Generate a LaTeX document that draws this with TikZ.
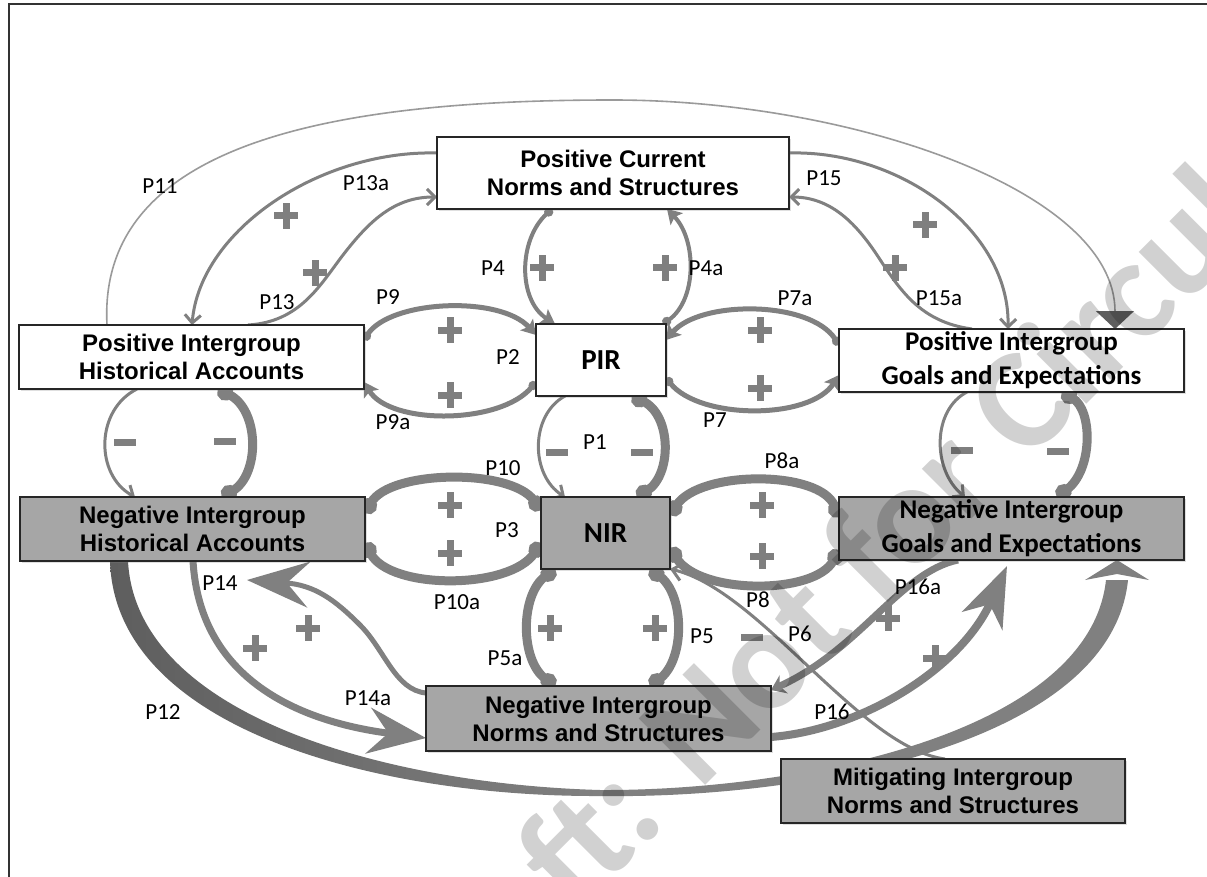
\documentclass[tikz,border=0pt]{standalone}
\usepackage{fontspec}
\setmainfont{Liberation Sans}
\newfontfamily\calfnt{Carlito}
\usetikzlibrary{arrows.meta,shadows,backgrounds}
\definecolor{boxgray}{HTML}{A6A6A6}
\definecolor{conc}{HTML}{808080}
\definecolor{signc}{HTML}{7F7F7F}
\definecolor{darkc}{HTML}{5E5E5E}
\definecolor{thinc}{HTML}{9A9A9A}
\begin{document}
\begin{tikzpicture}[x=1pt,y=-1pt,
  box/.style={draw=black!85, line width=1.3pt, inner sep=0pt, outer sep=0pt, align=center,
    font=\bfseries\fontsize{24}{28}\selectfont,
    drop shadow={opacity=0.25, shadow xshift=2pt, shadow yshift=-2pt}},
  wbox/.style={box, fill=white},
  gbox/.style={box, fill=boxgray},
  calbox/.style={font=\calfnt\bfseries\fontsize{27}{34}\selectfont},
  lbl/.style={font=\calfnt\fontsize{23}{23}\selectfont, inner sep=0pt},
  thickarc/.style={draw=conc, line width=9pt, arrows={Circle[length=16pt]-Circle[length=16pt]}},
  medarc/.style={draw=conc, line width=5pt, arrows={Circle[length=9pt]-Stealth[length=14pt,width=17pt,inset=3pt]}},
  thinarc/.style={draw=conc, line width=3pt, arrows={-Straight Barb[length=8pt,width=16pt]}},
  plussign/.pic={\fill[signc] (-12,-3.5) rectangle (12,3.5); \fill[signc] (-3.5,-13) rectangle (3.5,13);},
  minussign/.pic={\fill[signc] (-11,-3.5) rectangle (11,3.5);}
]
\useasboundingbox (0,0) rectangle (1207,877);
\clip (0,0) rectangle (1207,877);

% boxes
\node[wbox, minimum width=352pt, minimum height=72pt] (pcns) at (613,173) {Positive Current\\Norms and Structures};
\node[wbox, minimum width=345pt, minimum height=64pt] (piha) at (191.5,357) {Positive Intergroup\\Historical Accounts};
\node[wbox, calbox, font=\calfnt\bfseries\fontsize{29}{34}\selectfont, minimum width=130pt, minimum height=72pt] (pir) at (601,360) {PIR};
\node[wbox, calbox, minimum width=345pt, minimum height=63pt] (pige) at (1011.5,360.5) {Positive Intergroup\\Goals and Expectations};
\node[gbox, minimum width=345pt, minimum height=64pt] (niha) at (192.5,529) {Negative Intergroup\\Historical Accounts};
\node[gbox, calbox, font=\calfnt\bfseries\fontsize{29}{34}\selectfont, minimum width=129pt, minimum height=72pt] (nir) at (605.5,533) {NIR};
\node[gbox, calbox, minimum width=345pt, minimum height=63pt] (nige) at (1011.5,528.5) {Negative Intergroup\\Goals and Expectations};
\node[gbox, minimum width=345pt, minimum height=65pt] (nins) at (598.5,718.5) {Negative Intergroup\\Norms and Structures};
\node[gbox, minimum width=344pt, minimum height=64pt] (mins) at (953,791) {Mitigating Intergroup\\Norms and Structures};

\coordinate (p14tip) at (247,580);
\coordinate (p16tip) at (1007,566);

\begin{scope}[on background layer]
\fill[white] (0,0) rectangle (1207,877);
\draw[line width=2pt, black!80] (9,877) -- (9,4) -- (1207,4);
% P11
\draw[draw=thinc, line width=1.6pt, arrows={-Triangle[length=18pt,width=38pt,color=darkc]}]
  (piha.north -| 107,0) .. controls (97,140) and (340,100) .. (613,100)
  .. controls (850,100) and (1115,190) .. (pige.north -| 1115,0);
% P13a, P13, P15, P15a
\draw[thinarc] (pcns.west |- 0,153) .. controls (320,150) and (200,230) .. (piha.north -| 192,0);
\draw[thinarc] (piha.north -| 248,0) .. controls (300,322) and (320,285) .. (343,255)
  .. controls (370,220) and (395,197) .. (pcns.west |- 0,197);
\draw[thinarc] (pcns.east |- 0,153) .. controls (900,150) and (1010,230) .. (pige.north -| 1008,0);
\draw[thinarc] (pige.north -| 972,0) .. controls (920,322) and (900,290) .. (877,255)
  .. controls (855,222) and (830,197) .. (pcns.east |- 0,197);
% P4, P4a
\draw[medarc, line width=4pt] (pcns.south -| 552,0) .. controls (518,240) and (518,300) .. (pir.north -| 555,0);
\draw[medarc, line width=4pt] (pir.north -| 663,0) .. controls (697,300) and (697,240) .. (pcns.south -| 667,0);
% P9, P9a
\draw[medarc] (piha.east |- 0,340) .. controls (390,300) and (500,295) .. (pir.west |- 0,335);
\draw[medarc] (pir.west |- 0,382) .. controls (500,425) and (390,425) .. (piha.east |- 0,382);
% P7a, P7
\draw[medarc] (pige.west |- 0,345) .. controls (810,300) and (700,300) .. (pir.east |- 0,340);
\draw[medarc] (pir.east |- 0,378) .. controls (700,420) and (810,420) .. (pige.west |- 0,375);
% minus loops
\draw[thinarc] (piha.south -| 137,0) .. controls (95,410) and (95,475) .. (niha.north -| 135,0);
\draw[thickarc] (niha.north -| 222,0) .. controls (260,475) and (260,410) .. (piha.south -| 218,0);
\draw[thinarc] (pir.south -| 565,0) .. controls (530,415) and (530,475) .. (nir.north -| 565,0);
\draw[thickarc] (nir.north -| 637,0) .. controls (672,475) and (672,415) .. (pir.south -| 632,0);
\draw[thinarc] (pige.south -| 967,0) .. controls (932,410) and (932,470) .. (nige.north -| 965,0);
\draw[thickarc] (nige.north -| 1057,0) .. controls (1093,470) and (1093,410) .. (pige.south -| 1062,0);
% P10, P10a, P8a, P8, P5, P5a
\draw[thickarc] (niha.east |- 0,513) .. controls (390,470) and (510,468) .. (nir.west |- 0,510);
\draw[thickarc] (nir.west |- 0,543) .. controls (510,590) and (390,590) .. (niha.east |- 0,543);
\draw[thickarc] (nir.east |- 0,515) .. controls (700,470) and (820,470) .. (nige.west |- 0,517);
\draw[thickarc] (nir.east |- 0,548) .. controls (700,595) and (815,595) .. (nige.west |- 0,550);
\draw[thickarc] (nir.south -| 555,0) .. controls (520,595) and (520,660) .. (nins.north -| 555,0);
\draw[thickarc] (nins.north -| 650,0) .. controls (685,660) and (685,595) .. (nir.south -| 650,0);
% P14, P14a
\draw[draw=conc, line width=5pt, arrows={-Stealth[length=62pt,width=46pt,inset=22pt]}]
  (nins.west |- 0,693) .. controls (395,690) and (385,650) .. (360,625)
  .. controls (335,600) and (315,585) .. (p14tip);
\draw[draw=conc, line width=7pt, arrows={-Stealth[length=58pt,width=46pt,inset=20pt]}]
  (niha.south -| 193,0) .. controls (200,680) and (300,722) .. (nins.west |- 0,738);
% P12
\shade[left color=darkc, right color=conc]
  (niha.south -| 110,0) .. controls (115,730) and (380,797) .. (600,796) -- (600,790)
  .. controls (385,784) and (136,715) .. (niha.south -| 128,0) -- cycle;
\fill[conc] (600,796) .. controls (805,799) and (1111,745) .. (1128,580) -- (1106,580)
  .. controls (1089,735) and (795,791) .. (600,790) -- cycle;
\fill[conc] (1085,580) -- (nige.south -| 1117,0) -- (1149,580) -- (1117,574) -- cycle;
% P16, P16a
\draw[draw=conc, line width=8pt, arrows={-Stealth[length=60pt,width=44pt,inset=18pt]}]
  (nins.east |- 0,737) .. controls (860,730) and (960,670) .. (p16tip);
\draw[draw=conc, line width=7pt, arrows={-Stealth[length=14pt,width=20pt]}]
  (nige.south -| 958,0) .. controls (900,572) and (860,650) .. (nins.east |- 0,690);
% P6
\draw[draw=conc, line width=3pt, arrows={-Straight Barb[length=10pt,width=18pt]}]
  (mins.north -| 945,0) .. controls (860,748) and (760,590) .. (nir.south east);
\end{scope}

% signs
\foreach \p in {(286,216),(315,273),(542,268),(665,268),(925,225),(895,268),(450,330),(450,395),
  (760,330),(760,388),(450,505),(450,553),(762,505),(762,556),(550,628),(655,628),(255,648),
  (308,628),(888,618),(935,658)} \pic at \p {plussign};
\foreach \p in {(125,442),(225,441),(557,452),(642,452),(962,450),(1058,451),(752,637)} \pic at \p {minussign};

% labels
\node[lbl] (l11) at (160,186) {P11};
\node[lbl] (l13a) at (366,183) {P13a};
\node[lbl] (l13) at (277,302) {P13};
\node[lbl] (l9) at (388,297) {P9};
\node[lbl] (l4) at (493,268) {P4};
\node[lbl] (l4a) at (706,268) {P4a};
\node[lbl] (l2) at (508,357) {P2};
\node[lbl] (l9a) at (393,422) {P9a};
\node[lbl] (l15) at (824,178) {P15};
\node[lbl] (l15a) at (939,298) {P15a};
\node[lbl] (l7a) at (795,298) {P7a};
\node[lbl] (l7) at (715,420) {P7};
\node[lbl] (l1) at (595,442) {P1};
\node[lbl] (l10) at (503,468) {P10};
\node[lbl] (l3) at (507,530) {P3};
\node[lbl] (l10a) at (457,602) {P10a};
\node[lbl] (l8a) at (782,461) {P8a};
\node[lbl] (l8) at (758,600) {P8};
\node[lbl] (l5) at (702,636) {P5};
\node[lbl] (l5a) at (505,658) {P5a};
\node[lbl] (l6) at (800,634) {P6};
\node[lbl] (l14) at (220,583) {P14};
\node[lbl] (l14a) at (368,698) {P14a};
\node[lbl] (l12) at (163,712) {P12};
\node[lbl] (l16a) at (918,587) {P16a};
\node[lbl] (l16) at (832,712) {P16};

% watermark
\node[rotate=45, anchor=base west, inner sep=0pt, text=black, text opacity=0.18,
  font=\calfnt\bfseries\fontsize{145}{145}\selectfont] (wm) at (426,1065) {Draft: Not for Circulation};
\end{tikzpicture}
\end{document}
